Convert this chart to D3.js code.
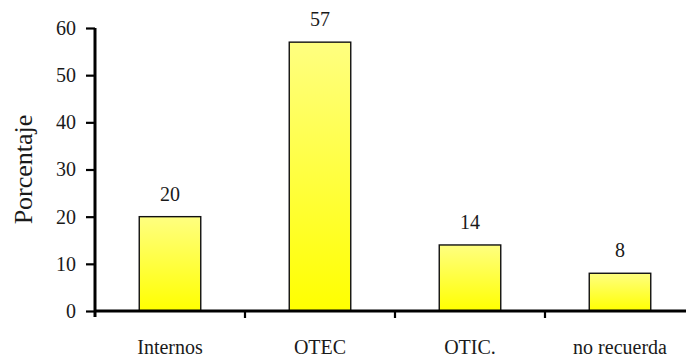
<!DOCTYPE html>
<html>
<head>
<meta charset="utf-8">
<script src="https://cdn.jsdelivr.net/npm/d3@7/dist/d3.min.js"></script>
<style>
  html, body { margin: 0; padding: 0; background: #ffffff; }
  svg { display: block; }
  text { font-family: "Liberation Serif", "DejaVu Serif", serif; fill: #1a1a1a; }
</style>
</head>
<body>
<svg id="chart" width="686" height="358"></svg>
<script>
// Porcentaje por tipo de organismo
const categories = ["Internos", "OTEC", "OTIC.", "no recuerda"];
const values = [20, 57, 14, 8];
const yTicks = [0, 10, 20, 30, 40, 50, 60];
const yTitle = "Porcentaje";

const svg = d3.select("#chart");
const W = 686;
const plotLeft = 95, plotRight = 695, plotTop = 28, plotBottom = 311;
const fs = 20;

const x = d3.scaleBand().domain(categories).range([plotLeft, plotRight]).padding(0);
const y = d3.scaleLinear().domain([0, 60]).range([plotBottom, plotTop]);
const barW = x.bandwidth() * 0.41;

// Vertical gradient used by every bar: pale yellow at the top, pure yellow at the base
const defs = svg.append("defs");
const grad = defs.append("linearGradient")
  .attr("id", "barFill")
  .attr("x1", 0).attr("y1", 0).attr("x2", 0).attr("y2", 1);
grad.append("stop").attr("offset", "0%").attr("stop-color", "#ffff80");
grad.append("stop").attr("offset", "100%").attr("stop-color", "#ffff00");

// Bars
svg.append("g").selectAll("rect")
  .data(values)
  .join("rect")
  .attr("x", (d, i) => x(categories[i]) + (x.bandwidth() - barW) / 2)
  .attr("y", d => y(d))
  .attr("width", barW)
  .attr("height", d => y(0) - y(d))
  .attr("fill", "url(#barFill)")
  .attr("stroke", "#111")
  .attr("stroke-width", 1.4);

// Value labels
svg.append("g").selectAll("text")
  .data(values)
  .join("text")
  .attr("x", (d, i) => x(categories[i]) + x.bandwidth() / 2)
  .attr("y", d => y(d) - 16)
  .attr("text-anchor", "middle")
  .attr("font-size", fs)
  .text(d => d);

// Y axis
const yAxis = svg.append("g")
  .attr("transform", `translate(${plotLeft},0)`)
  .call(d3.axisLeft(y).tickValues(yTicks).tickSize(9).tickPadding(10));
yAxis.select(".domain").attr("stroke", "#000").attr("stroke-width", 3)
  .attr("d", `M0,${plotTop}V${plotBottom + 6}`);
yAxis.selectAll(".tick line").attr("stroke", "#000").attr("stroke-width", 2.2);
yAxis.selectAll(".tick text")
  .attr("font-family", "Liberation Serif, serif")
  .attr("font-size", fs)
  .attr("fill", "#1a1a1a");

// X axis: labels centered in each band, tick marks on band boundaries
const xAxis = svg.append("g")
  .attr("transform", `translate(0,${plotBottom})`)
  .call(d3.axisBottom(x).tickSize(0).tickPadding(29));
xAxis.select(".domain").attr("stroke", "#000").attr("stroke-width", 3)
  .attr("d", `M${plotLeft},0H${W}`);
xAxis.selectAll(".tick text")
  .attr("font-family", "Liberation Serif, serif")
  .attr("font-size", fs)
  .attr("fill", "#1a1a1a");

xAxis.selectAll("line.sep")
  .data(categories.slice(1))
  .join("line")
  .attr("class", "sep")
  .attr("x1", d => x(d)).attr("x2", d => x(d))
  .attr("y1", 0).attr("y2", 7)
  .attr("stroke", "#000").attr("stroke-width", 2.2);

// Y axis title
svg.append("text")
  .attr("transform", `translate(32,${(plotTop + plotBottom) / 2}) rotate(-90)`)
  .attr("text-anchor", "middle")
  .attr("font-size", 26)
  .text(yTitle);
</script>
</body>
</html>
